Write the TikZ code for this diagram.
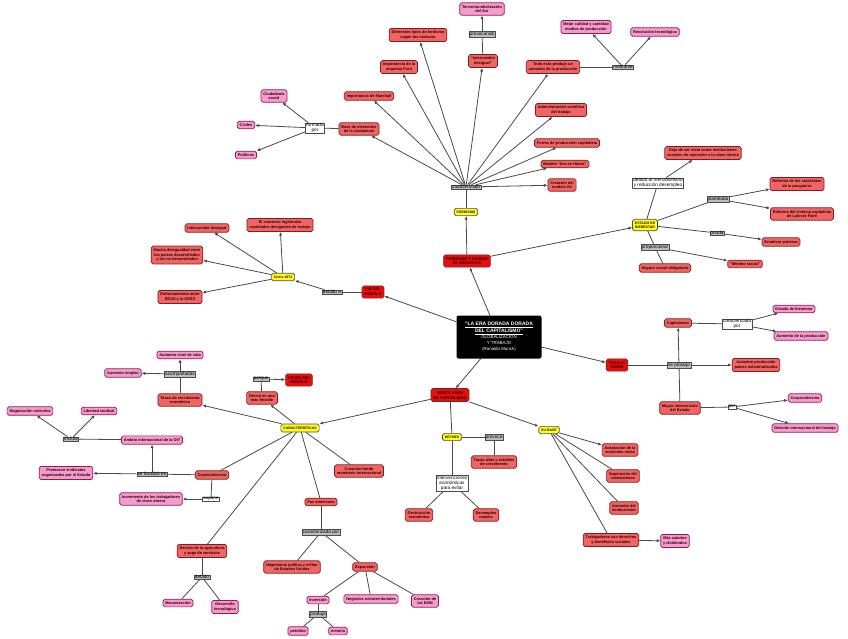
\documentclass[tikz,border=0pt]{standalone}
\usepackage{fontspec}
\setmainfont{Liberation Sans}
\usetikzlibrary{arrows.meta,backgrounds}
\definecolor{cred}{HTML}{F26464}
\definecolor{cmain}{HTML}{E80E0E}
\definecolor{cpink}{HTML}{F59BCF}
\definecolor{cyel}{HTML}{FFFF1A}
\definecolor{cbord}{HTML}{7A2020}
\definecolor{cgray}{HTML}{BDBDBD}
\definecolor{cline}{HTML}{4A4A4A}
\newcommand{\fnode}{\fontsize{3.9}{4.7}\selectfont\bfseries}
\newcommand{\flab}{\fontsize{4.7}{5}\selectfont}
\tikzset{
 box/.style={rounded corners=1.8pt, line width=0.7pt, align=center, inner xsep=2.4pt, inner ysep=2.4pt, font=\fnode, text=black!85!red},
 rnode/.style={box, fill=cred, draw=cbord},
 mnode/.style={box, fill=cmain, draw=cbord},
 pnode/.style={box, fill=cpink, draw=cbord!80!magenta},
 ynode/.style={box, fill=cyel, draw=black!70, font=\fontsize{3.5}{4.2}\selectfont\bfseries},
 glab/.style={fill=cgray, draw=black!70, line width=0.3pt, inner xsep=0.8pt, inner ysep=0.5pt, font=\flab, align=center, text=black},
 wlab/.style={glab, fill=white},
 ln/.style={draw=cline, line width=0.8pt},
 arr/.style={ln, -{Latex[length=3.6pt,width=3.2pt]}},
}
\begin{document}
\begin{tikzpicture}[x=1pt,y=-1pt]
\useasboundingbox (0,0) rectangle (848,638);
% central
\node[fill=black, rounded corners=2pt, text=white, align=center, minimum width=85, minimum height=43, inner sep=1pt, font=\fontsize{4.4}{6}\selectfont] (center) at (499,337)
 {{\bfseries\fontsize{5}{6.4}\selectfont\underline{“LA ERA DORADA DORADA}}\\[0.6pt]{\bfseries\fontsize{5}{6.4}\selectfont\underline{DEL CAPITALISMO”}}\\GLOBALIZACIÓN\\Y TRABAJO\\(Ronaldo Munck)};
% fordismo branch
\node[mnode] (feb) at (467,261) {FORDISMO Y ESTADO\\DE BIENESTAR};
\node[ynode] (ford) at (466,212) {FORDISMO};
\node[glab] (car) at (466,187) {caracterizado};
\node[rnode] (base) at (359,129) {Base de elementos\\de la ciudadanía};
\node[rnode] (marsh) at (369,96) {Importancia de Marshall};
\node[rnode] (fordco) at (399,67) {Importancia de la\\empresa Ford};
\node[rnode] (difer) at (418,35) {Diferentes tipos de fordismo\\según los sectores};
\node[rnode] (interc) at (483,61) {“Intercambio\\desigual”};
\node[glab] (provoc) at (482,34) {provocando};
\node[pnode] (terc) at (482,9) {Tercermundialización\\del Sur};
\node[rnode] (todo) at (553,67) {Todo esto produjo un\\aumento de la producción};
\node[glab] (median) at (623,67) {mediante};
\node[pnode] (mejor) at (586,27) {Mejor calidad y cantidad\\medios de producción};
\node[pnode] (revol) at (655,32) {Revolución tecnológica};
\node[rnode] (admin) at (561,110) {Administración científica\\del trabajo};
\node[rnode] (forma) at (567,143) {Forma de producción capitalista};
\node[rnode] (era) at (565,164) {Modelo “Era de Hierro”};
\node[rnode] (creamod) at (562,185) {Creación del\\modelo ISI};
\node[wlab] (formada) at (315,128) {formada\\por};
\node[pnode] (ciud) at (274,96) {Ciudadanía\\social};
\node[pnode] (civ) at (246,125) {Civiles};
\node[pnode] (pol) at (246,155) {Políticos};
% estado de bienestar
\node[ynode] (estado) at (645,225) {ESTADO DE\\BIENESTAR};
\node[wlab] (debal) at (658,183) {debido al mercantilismo\\y reducción desempleo};
\node[rnode] (deja) at (703,153) {Deja de ser visto como instituciones\\sociales de represión a la clase obrera};
\node[glab] (plant) at (718,199) {planteaba};
\node[rnode] (ref1) at (797,184) {Reforma de los socialistas\\de la posguerra};
\node[rnode] (ref2) at (802,214) {Reforma del sistema capitalista\\de Laissez Faire};
\node[glab] (brinda) at (717,233) {brinda};
\node[rnode] (errad) at (781,242) {Erradicar pobreza};
\node[glab] (propor) at (655,247) {proporcionar};
\node[rnode] (seguro) at (665,268) {Seguro social obligatorio};
\node[rnode] (minimo) at (745,264) {“Mínimo social”};
% crisis 1973
\node[mnode] (fin) at (373,292) {FIN DEL\\MODELO};
\node[glab] (debidoa) at (332,292) {debido a};
\node[ynode] (crisis) at (283,277) {Crisis 1973};
\node[rnode] (interc2) at (207,228) {Intercambio desigual};
\node[rnode] (comercio) at (280,225) {El comercio legitimaba\\cantidades desiguales de trabajo};
\node[rnode] (mucha) at (177,255) {Mucha desigualdad entre\\los países desarrollados\\y los no desarrollados};
\node[rnode] (enfr) at (180,297) {Enfrentamiento entre\\EEUU y la URSS};
% tras la crisis
\node[mnode] (tras) at (617,365) {TRAS LA\\CRISIS};
\node[glab] (seprod) at (679,365) {se produjo};
\node[rnode] (aumpais) at (756,365) {Aumento producción\\países industrializados};
\node[rnode] (capit) at (678,323) {Capitalismo};
\node[wlab] (carpor) at (737,324) {caracterizado\\por};
\node[pnode] (estbien) at (794,309) {Estado de bienestar};
\node[pnode] (aumprod) at (801,336) {Aumento de la producción};
\node[rnode] (mayor) at (680,408) {Mayor intervención\\del Estado};
\node[wlab] (por) at (732,407) {por};
\node[pnode] (corp2) at (805,398) {Corporativismo};
\node[pnode] (divis) at (805,428) {División internacional del trabajo};
% veinte años
\node[mnode] (veinte) at (450,395) {VEINTE AÑOS\\DE CAPITALISMO};
\node[ynode] (keynes) at (452,437) {KEYNES};
\node[glab] (provoco) at (494,437) {provocó};
\node[rnode] (tasasalt) at (494,462) {Tasas altas y estables\\de crecimiento};
\node[wlab] (interv) at (452,483) {Intervenciones\\económicas\\para evitar};
\node[rnode] (destr) at (419,515) {Destrucción\\económica};
\node[rnode] (desem) at (486,515) {Desempleo\\masivo};
\node[ynode] (subase) at (549,430) {SU BASE};
\node[rnode] (acept) at (620,450) {Aceptación de la\\economía mixta};
\node[rnode] (super) at (623,476) {Superación del\\colonialismo};
\node[rnode] (aumsind) at (624,508) {Aumento del\\sindicalismo};
\node[rnode] (trab) at (611,540) {Trabajadores con derechos\\y beneficios sociales};
\node[pnode] (massal) at (675,541) {Más salarios\\y dividendos};
% caracteristicas
\node[ynode] (carac) at (300,428) {CARACTERÍSTICAS};
\node[rnode] (derivo) at (262,398) {Derivó en uno\\más flexible};
\node[glab] (porque) at (261,379) {porque};
\node[mnode] (crismod) at (299,380) {CRISIS DEL\\MODELO};
\node[rnode] (tasas) at (180,400) {Tasas de crecimiento\\económico};
\node[glab] (acomp) at (180,374) {acompañadas};
\node[pnode] (aumvida) at (180,355) {Aumento nivel de vida};
\node[pnode] (aumemp) at (123,373) {Aumento empleo};
\node[rnode] (corp) at (212,475) {Corporativismo};
\node[glab] (focal) at (152,474) {se focalizó en};
\node[pnode] (oit) at (152,440) {Ámbito internacional de la OIT};
\node[glab] (incluia) at (71,439) {incluía};
\node[pnode] (negoc) at (30,411) {Negociación colectiva};
\node[pnode] (libert) at (99,411) {Libertad sindical};
\node[pnode] (promueve) at (66,473) {Promueve sindicatos\\organizados por el Estado};
\node[wlab] (supone) at (211,499) {supone};
\node[pnode] (increm) at (151,499) {Incremento de los trabajadores\\de clase obrera};
\node[rnode] (fondo) at (359,471) {Creación fondo\\monetario internacional};
\node[rnode] (pax) at (321,502) {Pax americana};
\node[glab] (carpor2) at (321,532) {caracterizada por};
\node[rnode] (hegem) at (292,567) {Hegemonía política y militar\\de Estados Unidos};
\node[rnode] (expans) at (365,567) {Expansión};
\node[pnode] (inver) at (318,600) {Inversión};
\node[pnode] (negext) at (371,599) {Negocios extraterritoriales};
\node[pnode] (emn) at (425,601) {Creación de\\las EMN};
\node[glab] (produjo) at (318,614) {produjo};
\node[pnode] (petro) at (298,631) {petróleo};
\node[pnode] (miner) at (338,631) {minería};
\node[rnode] (declive) at (202,551) {Declive de la agricultura\\y auge de servicios};
\node[glab] (debido2) at (202,577) {debido};
\node[pnode] (mecan) at (178,603) {Mecanización};
\node[pnode] (desarr) at (225,607) {Desarrollo\\tecnológico};
\begin{scope}[on background layer]
\fill[white] (0,0) rectangle (848,638);
\draw[arr] (center) -- (feb);
\draw[arr] (center) -- (fin);
\draw[arr] (center) -- (tras);
\draw[arr] (center) -- (veinte);
\draw[arr] (feb) -- (ford);
\draw[arr] (feb) -- (estado);
\draw[ln] (ford) -- (car);
\foreach \t in {base,marsh,fordco,difer,interc,todo,admin,forma,era,creamod} \draw[arr] (car) -- (\t);
\draw[ln] (interc) -- (provoc); \draw[arr] (provoc) -- (terc);
\draw[ln] (todo) -- (median); \draw[arr] (median) -- (mejor); \draw[arr] (median) -- (revol);
\draw[ln] (base) -- (formada);
\foreach \t in {ciud,civ,pol} \draw[arr] (formada) -- (\t);
\draw[ln] (estado) -- (debal); \draw[arr] (debal) -- (deja);
\draw[ln] (estado) -- (plant); \draw[arr] (plant) -- (ref1); \draw[arr] (plant) -- (ref2);
\draw[ln] (estado) -- (brinda); \draw[arr] (brinda) -- (errad);
\draw[ln] (estado) -- (propor); \draw[arr] (propor) -- (minimo); \draw[ln] (propor) -- (seguro);
\draw[ln] (fin) -- (debidoa); \draw[arr] (debidoa) -- (crisis);
\foreach \t in {interc2,comercio,mucha,enfr} \draw[arr] (crisis) -- (\t);
\draw[ln] (tras) -- (seprod); \draw[arr] (seprod) -- (aumpais); \draw[arr] (seprod) -- (capit); \draw[ln] (seprod) -- (mayor);
\draw[ln] (capit) -- (carpor); \draw[arr] (carpor) -- (estbien); \draw[arr] (carpor) -- (aumprod);
\draw[ln] (mayor) -- (por); \draw[arr] (por) -- (corp2); \draw[arr] (por) -- (divis);
\draw[arr] (veinte) -- (carac);
\draw[ln] (veinte) -- (keynes);
\draw[arr] (veinte) -- (subase);
\draw[ln] (keynes) -- (provoco); \draw[ln] (provoco) -- (tasasalt);
\draw[ln] (keynes) -- (interv); \draw[ln] (interv) -- (destr); \draw[ln] (interv) -- (desem);
\draw[arr] (subase) -- (acept);
\foreach \t in {super,aumsind,trab} \draw[ln] (subase) -- (\t);
\draw[arr] (trab) -- (massal);
\draw[arr] (carac) -- (derivo);
\draw[arr] (carac) -- (tasas);
\foreach \t in {corp,declive,pax,fondo} \draw[ln] (carac) -- (\t);
\draw[ln] (derivo) -- (porque); \draw[arr] (porque) -- (crismod);
\draw[ln] (tasas) -- (acomp); \draw[arr] (acomp) -- (aumvida); \draw[arr] (acomp) -- (aumemp);
\draw[ln] (corp) -- (focal); \draw[arr] (focal) -- (oit); \draw[arr] (focal) -- (promueve);
\draw[ln] (corp) -- (supone); \draw[arr] (supone) -- (increm);
\draw[ln] (oit) -- (incluia); \draw[arr] (incluia) -- (negoc); \draw[arr] (incluia) -- (libert);
\draw[ln] (declive) -- (debido2); \draw[ln] (debido2) -- (mecan); \draw[ln] (debido2) -- (desarr);
\draw[ln] (pax) -- (carpor2); \draw[ln] (carpor2) -- (hegem); \draw[ln] (carpor2) -- (expans);
\foreach \t in {inver,negext,emn} \draw[ln] (expans) -- (\t);
\draw[ln] (inver) -- (produjo); \draw[ln] (produjo) -- (petro); \draw[ln] (produjo) -- (miner);
\end{scope}
\end{tikzpicture}
\end{document}
